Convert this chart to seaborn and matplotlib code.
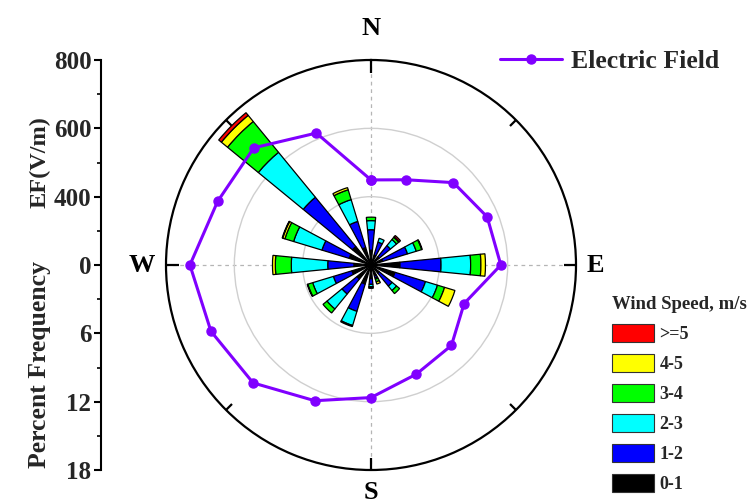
import numpy as np
import matplotlib
matplotlib.use("Agg")
import matplotlib.pyplot as plt
from matplotlib.patches import Patch
import seaborn as sns

# Sixteen compass sectors
directions = ["N", "NNE", "NE", "ENE", "E", "ESE", "SE", "SSE",
              "S", "SSW", "SW", "WSW", "W", "WNW", "NW", "NNW"]

# Percent frequency of each wind-speed class per sector
ws_0_1 = [1.3, 0.9, 0.9, 1.05, 2.55, 2.2, 0.9, 1.0, 1.2, 1.75, 1.6, 1.75, 1.5, 2.0, 2.1, 1.6]
ws_1_2 = [1.8, 1.2, 1.3, 2.3, 3.6, 2.8, 1.5, 0.2, 0.5, 2.5, 1.7, 1.7, 2.3, 2.5, 5.6, 2.4]
ws_2_3 = [0.8, 0.35, 0.7, 0.8, 2.6, 1.1, 0.5, 0.1, 0.2, 1.3, 1.7, 1.9, 3.2, 2.6, 5.1, 2.0]
ws_3_4 = [0.3, 0.0, 0.25, 0.5, 0.9, 0.65, 0.35, 0.25, 0.05, 0.1, 0.45, 0.45, 1.4, 0.8, 3.5, 0.9]
ws_4_5 = [0.0, 0.0, 0.05, 0.05, 0.4, 0.95, 0.0, 0.2, 0.1, 0.0, 0.0, 0.05, 0.25, 0.2, 0.7, 0.2]
ws_ge5 = [0.0, 0.0, 0.15, 0.0, 0.0, 0.0, 0.0, 0.0, 0.0, 0.0, 0.0, 0.0, 0.0, 0.05, 0.3, 0.0]

speed_labels = ["0-1", "1-2", "2-3", "3-4", "4-5", ">=5"]
speed_bins = [ws_0_1, ws_1_2, ws_2_3, ws_3_4, ws_4_5, ws_ge5]
speed_colors = ["#000000", "#0000FF", "#00FFFF", "#00FF00", "#FFFF00", "#FF0000"]

# Mean electric field (V/m) per sector
ef_values = [449, 470, 541, 568, 580, 495, 533, 546,
             588, 630, 688, 707, 730, 686, 685, 618]

ef_ticks = ["18", "12", "6", "0", "400", "600", "800"]

sns.set_theme(style="white")
plt.rcParams["font.family"] = ["Liberation Serif", "DejaVu Serif"]
plt.rcParams["font.weight"] = "bold"

W, H = 749, 504
fig = plt.figure(figsize=(W / 100, H / 100), dpi=100)
left_px, top_px, size_px = 166, 60, 410
rect = [left_px / W, 1 - (top_px + size_px) / H, size_px / W, size_px / H]

# ---- wind rose ----
ax = fig.add_axes(rect, projection="polar")
ax.set_theta_zero_location("N")
ax.set_theta_direction(-1)
n = len(directions)
theta = np.deg2rad(np.arange(n) * 360.0 / n)
width = np.deg2rad(360.0 / n / 2)
bottom = np.zeros(n)
for vals, color in zip(speed_bins, speed_colors):
    vals = np.asarray(vals, dtype=float)
    lws = [0.9 if v > 0 else 0 for v in vals]
    ax.bar(theta, vals, width=width, bottom=bottom, color=color,
           edgecolor="black", linewidth=lws, zorder=3)
    bottom += vals
ax.set_ylim(0, 18)
ax.set_yticks([6, 12])
ax.set_yticklabels([])
ax.yaxis.grid(True, color="#cfcfcf", lw=1.0, ls="-")
ax.set_xticks(np.deg2rad([0, 90, 180, 270]))
ax.set_xticklabels([])
ax.set_xticks(np.deg2rad([45, 135, 225, 315]), minor=True)
ax.xaxis.grid(True, which="major", color="#b5b5b5", lw=0.9, ls=(0, (3, 3)))
# theta tick marks on the outer ring
ax.tick_params(axis="x", which="major", bottom=False, top=True, direction="in",
               length=9, width=1.6, color="black")
ax.tick_params(axis="x", which="minor", bottom=False, top=True, direction="in",
               length=6, width=1.6, color="black")
ax.spines["polar"].set_linewidth(1.6)
ax.spines["polar"].set_color("black")

for lab, (x, y) in zip(["N", "E", "S", "W"],
                       [(0.5, 1.078), (1.046, 0.5), (0.5, -0.056), (-0.06, 0.5)]):
    ax.text(x, y, lab, transform=ax.transAxes, ha="center", va="center",
            fontsize=19, fontweight="bold", color="black")

handles = [Patch(facecolor=c, edgecolor="#333333", linewidth=0.8)
           for c in speed_colors]
ax.legend(handles[::-1], speed_labels[::-1], loc="upper left",
          bbox_to_anchor=(612 / W, 1 - 296 / H), bbox_transform=fig.transFigure,
          frameon=False, title="Wind Speed, m/s", alignment="left",
          prop=dict(size=13, weight="bold"),
          title_fontproperties=dict(size=13.5, weight="bold"),
          handlelength=2.33, handleheight=1.11, labelspacing=0.62,
          handletextpad=0.3, borderpad=0, borderaxespad=0)

# ---- electric field overlay ----
ax2 = fig.add_axes(rect, projection="polar", label="ef")
ax2.patch.set_visible(False)
ax2.set_theta_zero_location("N")
ax2.set_theta_direction(-1)
ax2.plot(np.append(theta, theta[0]), np.append(ef_values, ef_values[0]),
         color="#8000FF", lw=2.2, marker="o", ms=6.5, label="Electric Field",
         zorder=5)
ax2.set_rlim(200, 800)
ax2.grid(False)
ax2.set_xticks([])
ax2.set_yticks([])
ax2.spines["polar"].set_visible(False)
ax2.legend(loc="upper left", bbox_to_anchor=(500 / W, 1 - 50 / H),
           bbox_transform=fig.transFigure, frameon=False,
           prop=dict(size=18.5, weight="bold"), handlelength=2.4,
           handletextpad=0.35, borderpad=0, borderaxespad=0)

# ---- combined radial scale on the left ----
axl = fig.add_axes([101 / W, rect[1], 0.0001, rect[3]])
axl.patch.set_visible(False)
for s in ["top", "right", "bottom"]:
    axl.spines[s].set_visible(False)
axl.spines["left"].set_linewidth(1.5)
axl.spines["left"].set_color("black")
axl.set_ylim(-18, 18)
axl.set_xticks([])
axl.set_yticks([-18, -12, -6, 0, 6, 12, 18])
axl.set_yticklabels(ef_ticks)
axl.set_yticks([-15, -9, -3, 3, 9, 15], minor=True)
axl.tick_params(axis="y", which="major", left=True, direction="out",
                length=5, width=1.5, color="black", labelsize=18, pad=2)
axl.tick_params(axis="y", which="minor", left=True, direction="out",
                length=3, width=1.2, color="black")
for t in axl.get_yticklabels():
    t.set_fontweight("bold")

fig.text(40 / W, 1 - 162 / H, "EF(V/m)", rotation=90, ha="center", va="center",
         fontsize=17.5, fontweight="bold")
fig.text(40 / W, 1 - 365 / H, "Percent Frequency", rotation=90, ha="center",
         va="center", fontsize=18.5, fontweight="bold")

fig.savefig("out.png", dpi=100)
